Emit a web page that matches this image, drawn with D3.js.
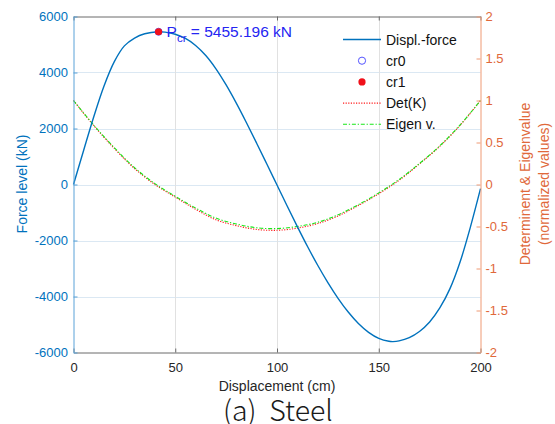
<!DOCTYPE html>
<html>
<head>
<meta charset="utf-8">
<script src="https://cdn.jsdelivr.net/npm/d3@7"></script>
<style>
  html, body { margin: 0; padding: 0; background: #fff; }
  svg { display: block; font-family: "Liberation Sans", Arial, Helvetica, sans-serif; }
</style>
</head>
<body>
<svg id="chart" width="555" height="424"></svg>
<script>
// Displacement (cm) and force level (kN) of the steel member
const displacement = [0, 5, 10, 15, 20, 25, 30, 35, 41.8, 45, 50, 55, 60, 65, 70, 75, 80, 85, 90, 95,
  100, 105, 110, 115, 120, 125, 130, 135, 140, 145, 150, 155, 157, 160, 165, 170, 175, 180, 185, 190, 195, 200];
const force = [0, 1225, 2430, 3520, 4380, 4950, 5230, 5385, 5455.196, 5440, 5365, 5215, 4965, 4605, 4130, 3555, 2905, 2205, 1475, 730,
  -20, -770, -1505, -2215, -2885, -3505, -4065, -4555, -4965, -5280, -5495, -5600, -5610, -5585, -5470, -5250, -4910, -4410, -3720, -2760, -1530, -150];

// Normalized determinant of K and lowest eigenvalue along the path
const normDispl = [0, 10, 20, 30, 40, 50, 60, 70, 80, 90, 100, 110, 120, 130, 140, 150, 160, 170, 180, 190, 200];
const detK = [1.00, 0.70, 0.43, 0.19, 0.00, -0.15, -0.295, -0.42, -0.49, -0.535, -0.545, -0.52, -0.465, -0.375, -0.25, -0.11, 0.05, 0.245, 0.455, 0.705, 1.00];
const eigenV = [1.00, 0.705, 0.44, 0.20, 0.01, -0.14, -0.28, -0.40, -0.47, -0.515, -0.525, -0.50, -0.45, -0.36, -0.24, -0.10, 0.06, 0.25, 0.46, 0.71, 1.00];

// Critical points
const critDispl = [41.8];
const critForce = [5455.196];
const critLabel = "5455.196";

// Axis ticks
const xTicks = [0, 50, 100, 150, 200];
const xTickLabels = ["0", "50", "100", "150", "200"];
const forceTicks = [-6000, -4000, -2000, 0, 2000, 4000, 6000];
const forceTickLabels = ["-6000", "-4000", "-2000", "0", "2000", "4000", "6000"];
const ratioTicks = [-2, -1.5, -1, -0.5, 0, 0.5, 1, 1.5, 2];
const ratioTickLabels = ["-2", "-1.5", "-1", "-0.5", "0", "0.5", "1", "1.5", "2"];

const legendLabels = ["Displ.-force", "cr0", "cr1", "Det(K)", "Eigen v."];

const C_BLUE = "#0072BD", C_ORANGE = "#E0683A", C_AXIS = "#6b6b6b", C_TEXT = "#262626";

const svg = d3.select("#chart");
svg.append("rect").attr("width", 555).attr("height", 424).attr("fill", "#fff");

const L = 73.5, R = 480.5, T = 16.5, B = 352.5;
const x = d3.scaleLinear().domain([0, 200]).range([L, R]);
const yF = d3.scaleLinear().domain([-6000, 6000]).range([B, T]);
const yR = d3.scaleLinear().domain([-2, 2]).range([B, T]);

// grid
const grid = svg.append("g");
grid.selectAll("line.h").data(forceTicks.slice(1, -1)).join("line")
  .attr("x1", L).attr("x2", R).attr("y1", d => Math.round(yF(d)) + 0.5).attr("y2", d => Math.round(yF(d)) + 0.5)
  .attr("stroke", "#dbe8f3").attr("stroke-width", 1);
grid.selectAll("line.v").data(xTicks.slice(1, -1)).join("line")
  .attr("y1", T).attr("y2", B).attr("x1", d => Math.round(x(d)) + 0.5).attr("x2", d => Math.round(x(d)) + 0.5)
  .attr("stroke", "#e1e1e1").attr("stroke-width", 1);

// curves
const forceLine = d3.line().x((d, i) => x(displacement[i])).y(d => yF(d)).curve(d3.curveCatmullRom.alpha(0.5));
const ratioLine = d3.line().x((d, i) => x(normDispl[i])).y(d => yR(d)).curve(d3.curveCatmullRom.alpha(0.5));

svg.append("path").attr("d", ratioLine(detK)).attr("fill", "none")
  .attr("stroke", "#ff1a1a").attr("stroke-width", 1.1).attr("stroke-dasharray", "1.2,1.4");
svg.append("path").attr("d", ratioLine(eigenV)).attr("fill", "none")
  .attr("stroke", "#19e619").attr("stroke-width", 1.1).attr("stroke-dasharray", "4,1.8,1.3,1.8");
svg.append("path").attr("d", forceLine(force)).attr("fill", "none")
  .attr("stroke", C_BLUE).attr("stroke-width", 1.4);

// axes
const fmt = (vals, labels) => (d => labels[vals.indexOf(d)]);
const gB = svg.append("g").attr("transform", `translate(0,${B})`)
  .call(d3.axisBottom(x).tickValues(xTicks).tickFormat(fmt(xTicks, xTickLabels)).tickSizeInner(-4).tickSizeOuter(0).tickPadding(10));
const gT = svg.append("g").attr("transform", `translate(0,${T})`)
  .call(d3.axisTop(x).tickValues(xTicks).tickFormat("").tickSizeInner(-4).tickSizeOuter(0));
[gB, gT].forEach(g => {
  g.select(".domain").attr("stroke", C_AXIS);
  g.selectAll(".tick line").attr("stroke", C_AXIS);
  g.selectAll("text").attr("fill", C_TEXT).attr("font-size", 13).attr("font-family", "Liberation Sans, Arial, sans-serif");
});
const gL = svg.append("g").attr("transform", `translate(${L},0)`)
  .call(d3.axisLeft(yF).tickValues(forceTicks).tickFormat(fmt(forceTicks, forceTickLabels)).tickSizeInner(-4).tickSizeOuter(0).tickPadding(5.5));
gL.select(".domain").attr("stroke", "#5aa2d8");
gL.selectAll(".tick line").attr("stroke", "#5aa2d8");
gL.selectAll("text").attr("fill", C_BLUE).attr("font-size", 13).attr("font-family", "Liberation Sans, Arial, sans-serif");

const gR = svg.append("g").attr("transform", `translate(${R},0)`)
  .call(d3.axisRight(yR).tickValues(ratioTicks).tickFormat(fmt(ratioTicks, ratioTickLabels)).tickSizeInner(-4).tickSizeOuter(0).tickPadding(5));
gR.select(".domain").attr("stroke", "#ef9a74");
gR.selectAll(".tick line").attr("stroke", "#ef9a74");
gR.selectAll("text").attr("fill", C_ORANGE).attr("font-size", 13).attr("font-family", "Liberation Sans, Arial, sans-serif");

// critical point markers
svg.selectAll("circle.cr0").data(critDispl).join("circle")
  .attr("cx", d => x(d)).attr("cy", (d, i) => yF(critForce[i])).attr("r", 3.5)
  .attr("fill", "none").attr("stroke", "#5555ff").attr("stroke-width", 1);
svg.selectAll("circle.cr1").data(critDispl).join("circle")
  .attr("cx", d => x(d)).attr("cy", (d, i) => yF(critForce[i])).attr("r", 3.6)
  .attr("fill", "#f0101a");

// critical load label
const pcr = svg.append("text")
  .attr("x", x(critDispl[0]) + 8).attr("y", yF(critForce[0]) + 5.6)
  .attr("fill", "#2525f2").attr("font-size", 15.5);
pcr.append("tspan").text("P");
pcr.append("tspan").attr("dy", 5).attr("font-size", 11.5).text("cr");
pcr.append("tspan").attr("dy", -5).text(" = " + critLabel + " kN");

// axis titles
svg.append("text").attr("x", 277).attr("y", 391).attr("text-anchor", "middle")
  .attr("fill", C_TEXT).attr("font-size", 14).text("Displacement (cm)");
svg.append("text").attr("transform", "translate(27,184) rotate(-90)").attr("text-anchor", "middle")
  .attr("fill", C_BLUE).attr("font-size", 14).text("Force level (kN)");
svg.append("text").attr("transform", "translate(530,184) rotate(-90)").attr("text-anchor", "middle")
  .attr("fill", C_ORANGE).attr("font-size", 14).text("Determinent & Eigenvalue");
svg.append("text").attr("transform", "translate(548.5,184) rotate(-90)").attr("text-anchor", "middle")
  .attr("fill", C_ORANGE).attr("font-size", 14).text("(normalized values)");

// legend
const lg = svg.append("g");
const rowY = i => 39.5 + 21.2 * i;
const sx0 = 343, sx1 = 381;
lg.append("line").attr("x1", sx0).attr("x2", sx1).attr("y1", rowY(0)).attr("y2", rowY(0))
  .attr("stroke", C_BLUE).attr("stroke-width", 1.4);
lg.append("circle").attr("cx", (sx0 + sx1) / 2).attr("cy", rowY(1)).attr("r", 3.6)
  .attr("fill", "none").attr("stroke", "#5555ff").attr("stroke-width", 1);
lg.append("circle").attr("cx", (sx0 + sx1) / 2).attr("cy", rowY(2)).attr("r", 3.6).attr("fill", "#f0101a");
lg.append("line").attr("x1", sx0).attr("x2", sx1).attr("y1", rowY(3)).attr("y2", rowY(3))
  .attr("stroke", "#ff1a1a").attr("stroke-width", 1.1).attr("stroke-dasharray", "1.2,1.4");
lg.append("line").attr("x1", sx0).attr("x2", sx1).attr("y1", rowY(4)).attr("y2", rowY(4))
  .attr("stroke", "#19e619").attr("stroke-width", 1.1).attr("stroke-dasharray", "4,1.8,1.3,1.8");
lg.selectAll("text").data(legendLabels).join("text")
  .attr("x", 386).attr("y", (d, i) => rowY(i) + 5).attr("fill", "#111").attr("font-size", 14).text(d => d);

// caption
svg.append("text").attr("x", 278).attr("y", 421).attr("text-anchor", "middle")
  .attr("fill", "#1a1a1a").attr("font-size", 28.5).attr("font-family", "'Noto Sans CJK KR', 'Noto Sans', sans-serif")
  .attr("font-weight", 300).style("white-space", "pre").text("(a)  Steel");
</script>
</body>
</html>
